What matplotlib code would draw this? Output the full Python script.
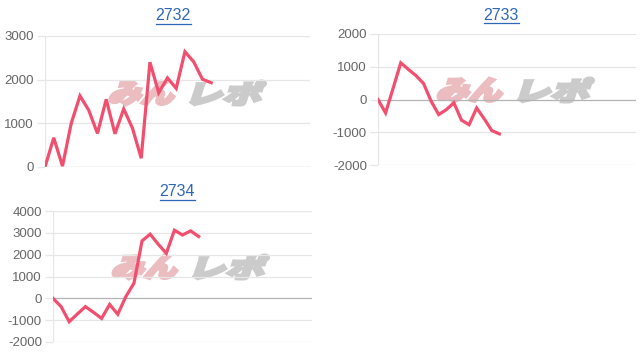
import matplotlib
matplotlib.use("Agg")
import matplotlib.pyplot as plt
from matplotlib.font_manager import FontProperties
from matplotlib.textpath import TextPath
from matplotlib.patches import PathPatch
from matplotlib.transforms import Affine2D
from matplotlib.lines import Line2D

# data
titles = ["2732", "2733", "2734"]
vals_2732 = [0, 670, 20, 1000, 1630, 1300, 770, 1550, 760, 1330,
             890, 200, 2400, 1700, 2040, 1800, 2640, 2410, 2010, 1930]
vals_2733 = [0, -410, 350, 1120, 920, 730, 490, -50, -460, -310,
             -100, -630, -770, -260, -590, -950, -1050]
vals_2734 = [0, -380, -1070, -720, -380, -640, -920, -280, -730, 80,
             690, 2630, 2940, 2480, 2060, 3120, 2900, 3090, 2830]
x_len = [30.3, 34, 32]
y_ticks = [[0, 1000, 2000, 3000],
           [-2000, -1000, 0, 1000, 2000],
           [-2000, -1000, 0, 1000, 2000, 3000, 4000]]

W, H = 640, 352
# axes boxes in pixels: left, top, right, bottom
boxes = [(45, 36, 310, 167), (378, 34, 636, 165), (53, 211, 312, 342)]
title_pos = [(173, 16), (501, 15), (177, 192)]
mark_pos = [(110, 80), (438, 77), (113, 254)]  # watermark top-left

line_col = "#f24f6e"
grid_col = "#e6e6e6"
zero_col = "#b3b3b3"
tick_col = "#666666"
link_col = "#2f66b8"

plt.rcParams["font.family"] = ["Liberation Sans", "DejaVu Sans"]
fig = plt.figure(figsize=(W / 100, H / 100), dpi=100)

series = [vals_2732, vals_2733, vals_2734]


def add_mark(x0, y0):
    # "みんレポ" logo behind the plot, faked with skewed heavy glyphs
    fp = FontProperties(family="Noto Sans CJK JP", weight="black")
    parts = [("みん", "#ebbcc0", 0, 72), ("レポ", "#cbcbcb", 82, 78)]
    for txt, col, dx, w in parts:
        tp = TextPath((0, 0), txt, size=1, prop=fp)
        bb = tp.get_extents()
        h = 24
        tr = (Affine2D().translate(-bb.x0, -bb.y0)
              .scale(w / bb.width * 0.88, h / bb.height)
              .skew_deg(18, 0)
              .translate(x0 + dx - 2, H - y0 - h - 1))
        p = PathPatch(tp, transform=tr, facecolor=col, edgecolor=col,
                      lw=2.2, joinstyle="miter", zorder=-5)
        fig.add_artist(p)


for i in range(3):
    l, t, r, b = boxes[i]
    ax = fig.add_axes([l / W, 1 - b / H, (r - l) / W, (b - t) / H])
    ax.set_facecolor("none")
    yt = y_ticks[i]
    for v in yt:
        ax.axhline(v, color=zero_col if v == 0 else grid_col, lw=0.9, zorder=1)
    ax.axvline(0, color=grid_col, lw=0.9, zorder=1)
    ax.plot(range(len(series[i])), series[i], color=line_col, lw=2.3,
            solid_joinstyle="miter", zorder=3)
    ax.set_xlim(0, x_len[i])
    ax.set_ylim(yt[0], yt[-1])
    ax.set_yticks(yt)
    ax.set_yticklabels([str(v) for v in yt])
    ax.set_xticks([])
    for s in ax.spines.values():
        s.set_visible(False)
    ax.tick_params(axis="y", length=6, width=0.9, color=grid_col, pad=2,
                   labelsize=9.5, labelcolor=tick_col)
    for tk, v in zip(ax.yaxis.get_major_ticks(), yt):
        if v == 0:
            tk.tick1line.set_color(zero_col)
    tx, ty = title_pos[i]
    fig.text(tx / W, 1 - ty / H, titles[i], ha="center", va="center",
             fontsize=11.5, color=link_col)
    # underline
    fig.add_artist(Line2D([(tx - 17.5) / W, (tx + 17.5) / W],
                          [1 - (ty + 7.5) / H, 1 - (ty + 7.5) / H],
                          color=link_col, lw=0.9))
    add_mark(*mark_pos[i])

fig.savefig("out.png", dpi=100)
